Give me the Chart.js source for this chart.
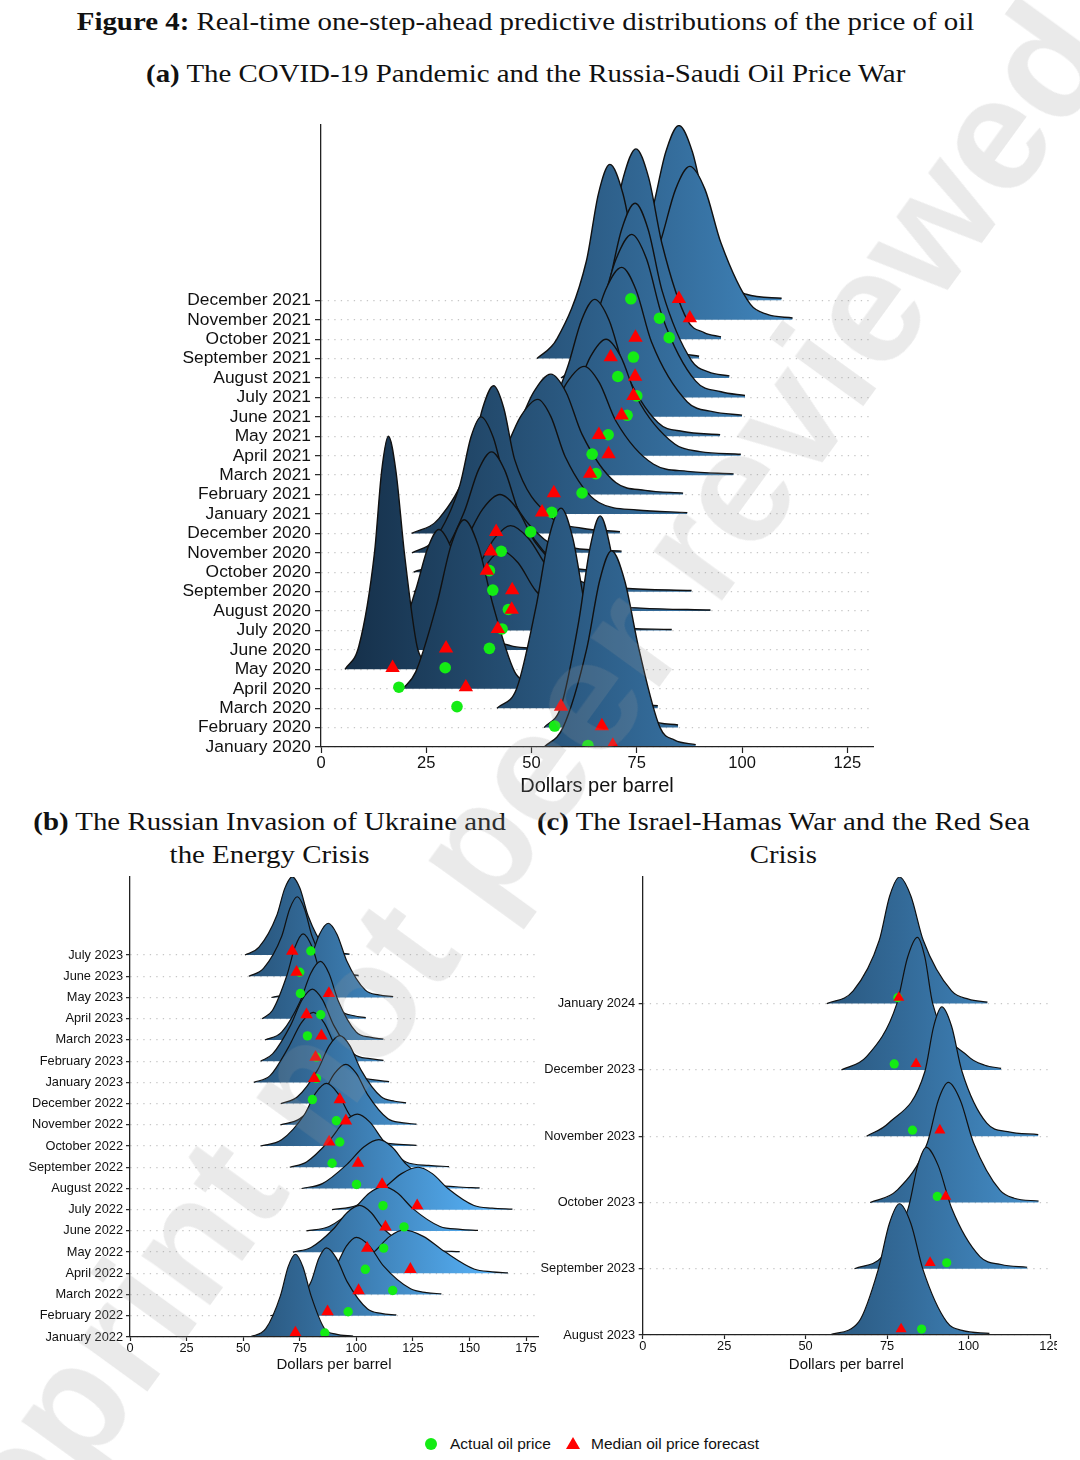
<!DOCTYPE html>
<html>
<head>
<meta charset="utf-8">
<script src="https://cdn.jsdelivr.net/npm/chart.js@4.4.1/dist/chart.umd.min.js"></script>
<style>
  body { margin: 0; background: #fff; }
  #page { position: relative; width: 1080px; height: 1460px; overflow: hidden; background: #fff; color: #111; }
  .ttl { position: absolute; text-align: center; font-family: "Liberation Serif", serif; font-size: 25px; line-height: 33px; white-space: nowrap; }
  .ttl span { display: inline-block; transform: scaleX(1.155); }
  canvas { position: absolute; }
  .leg { position: absolute; font-family: "Liberation Sans", Arial, sans-serif; font-size: 15.5px; line-height: 20px; white-space: nowrap; }
  #dot { position: absolute; left: 425px; top: 1438px; width: 12px; height: 12px; border-radius: 50%; background: #14ec14; }
  #tri { position: absolute; left: 566px; top: 1437px; width: 0; height: 0; border-left: 7px solid transparent; border-right: 7px solid transparent; border-bottom: 12px solid #ff0000; }
  #wm { position: absolute; left: 483px; top: 836px; transform: translate(-50%, -50%) rotate(-54deg); font: bold 160px/1 "Liberation Sans", Arial, sans-serif; color: rgba(150, 150, 150, 0.2); white-space: nowrap; pointer-events: none; }
</style>
</head>
<body>
<div id="page">
  <div class="ttl" style="left:0;width:1052px;top:5px"><span><b>Figure 4:</b> Real-time one-step-ahead predictive distributions of the price of oil</span></div>
  <div class="ttl" style="left:0;width:1052px;top:57px"><span><b>(a)</b> The COVID-19 Pandemic and the Russia-Saudi Oil Price War</span></div>
  <div class="ttl" style="left:0;width:540px;top:805px"><span><b>(b)</b> The Russian Invasion of Ukraine and<br>the Energy Crisis</span></div>
  <div class="ttl" style="left:513px;width:540px;top:805px"><span><b>(c)</b> The Israel-Hamas War and the Red Sea<br>Crisis</span></div>

  <canvas id="chartA" width="1080" height="710" style="left:0;top:100px"></canvas>
  <canvas id="chartB" width="560" height="520" style="left:0;top:860px"></canvas>
  <div style="position:absolute;left:520px;top:860px;width:537px;height:520px;overflow:hidden">
    <canvas id="chartC" width="560" height="520" style="left:0;top:0"></canvas>
  </div>

  <div id="dot"></div>
  <div class="leg" style="left:450px;top:1434px">Actual oil price</div>
  <div id="tri"></div>
  <div class="leg" style="left:591px;top:1434px">Median oil price forecast</div>

  <div id="wm">preprint not peer reviewed</div>
</div>

<script>
// ---- data ----

// each ridge lists the x where the density sits at these fractions of its peak:
// start, 10%, 50%, 85%, peak, 85%, 50%, 10%, 3.5%, end of tail
const RIDGE_SHAPE = [0, 0.1, 0.5, 0.85, 1, 0.85, 0.5, 0.1, 0.035, 0.012];

// panel (a) COVID-19 / Russia-Saudi price war
const monthsA = ['January 2020', 'February 2020', 'March 2020', 'April 2020', 'May 2020', 'June 2020',
    'July 2020', 'August 2020', 'September 2020', 'October 2020', 'November 2020', 'December 2020',
    'January 2021', 'February 2021', 'March 2021', 'April 2021', 'May 2021', 'June 2021',
    'July 2021', 'August 2021', 'September 2021', 'October 2021', 'November 2021', 'December 2021'];
const ridgesA = [
    [53, 57.5, 63.1, 66.2, 69, 72.1, 75.5, 80.5, 84, 89],
    [53, 57, 61.2, 63.9, 66.3, 68.7, 71.4, 75.6, 78.5, 84.8],
    [41.8, 46.5, 51, 54.1, 57, 59.8, 62.8, 67.5, 71, 80],
    [19.5, 22.5, 27.5, 30.9, 34, 37.3, 40.8, 46, 49, 51.5],
    [5.7, 9, 12.7, 14.4, 16, 17.8, 19.8, 22.8, 24.5, 27],
    [15, 18.5, 22.5, 25.4, 28, 30.9, 34, 41, 45, 50],
    [25, 30, 36, 39.6, 43, 46.8, 51, 61, 70, 83.3],
    [24, 30, 37, 41.2, 45, 49.3, 54, 65, 76, 92.5],
    [22, 28, 34, 38.4, 42.5, 46.6, 51, 62, 72, 88],
    [22, 28, 34, 37.4, 40.5, 43.6, 47, 55, 60, 66],
    [21.6, 27, 33, 35.6, 38, 40.9, 44, 53, 60, 71.4],
    [21.5, 28, 35.5, 38.4, 41, 43.4, 46, 55, 62, 71],
    [30, 36, 43, 47.4, 51.5, 54.6, 58, 66, 75, 87],
    [35, 40, 46, 50.5, 54.6, 58.2, 62, 70, 77, 86],
    [43, 48, 54, 58.4, 62.5, 66.1, 70, 79, 87, 98],
    [47, 53, 60, 64, 67.7, 71.2, 75, 84, 90, 99.7],
    [48, 53, 58.5, 61.9, 65, 68.4, 72, 80, 86, 94.8],
    [52, 57, 63.5, 67.6, 71.4, 74.8, 78.5, 87, 93, 100],
    [54, 59, 66, 70.1, 73.8, 77.3, 81, 89, 95, 100.7],
    [57, 62, 68, 71.4, 74.6, 77.7, 81, 88, 92, 97],
    [51.3, 56, 63, 65.9, 68.6, 71.7, 75, 81, 85, 89.8],
    [56.6, 61, 68.5, 71.8, 74.8, 77.8, 81, 87, 91, 95],
    [68, 74, 80.5, 84.2, 87.6, 91.2, 95, 102, 106, 112],
    [62, 72, 78.5, 81.9, 85, 88.2, 91.6, 97.5, 101, 109.4]
];
// peak heights, in rows
const heightsA = [10.1, 10.9, 10.3, 8.7, 12.0, 6.2, 4.1, 4.4, 5.0, 6.2, 7.0, 7.6,
    5.9, 6.2, 5.6, 6.0, 7.05, 7.7, 8.4, 9.0, 10.0, 9.8, 7.9, 9.0];
const actualA = [63.4, 55.5, 32.3, 18.5, 29.5, 40, 43, 44.5, 40.8, 40, 42.8, 49.8,
    54.8, 62, 65.3, 64.4, 68.2, 72.7, 75, 70.5, 74.2, 82.7, 80.4, 73.6];
const forecastA = [69.3, 66.7, 57, 34.4, 17, 29.7, 42, 45.3, 45.4, 39.4, 40.3, 41.6,
    52.5, 55.3, 63.9, 68.3, 66, 71.4, 74.2, 74.6, 68.8, 74.7, 87.6, 85];
const xTicksA = [0, 25, 50, 75, 100, 125];

// panel (b) Russian invasion of Ukraine
const monthsB = ['January 2022', 'February 2022', 'March 2022', 'April 2022', 'May 2022', 'June 2022',
    'July 2022', 'August 2022', 'September 2022', 'October 2022', 'November 2022', 'December 2022',
    'January 2023', 'February 2023', 'March 2023', 'April 2023', 'May 2023', 'June 2023', 'July 2023'];
const ridgesB = [
    [53, 60, 66.5, 69.9, 73.1, 76.4, 80, 86, 91, 98.6],
    [62, 72, 80, 83.5, 86.8, 91.2, 96, 105, 111, 117.7],
    [72, 82, 91, 95.7, 100, 105.8, 112, 124, 131, 137.6],
    [88, 98, 108, 114.8, 121, 129.6, 139, 152, 160, 167],
    [72, 80, 90, 96, 101.5, 106.5, 112, 125, 135, 145.7],
    [78, 88, 99, 105.8, 112, 118.2, 125, 137, 146, 153.8],
    [89.3, 100, 112, 120, 127.3, 133.6, 140.5, 152, 160, 169],
    [75.8, 85, 96, 103.3, 110, 115.8, 122, 134, 144, 154.5],
    [70.6, 78, 88, 94.5, 100.5, 106, 112, 122, 132, 141],
    [57.7, 67, 77, 82.1, 86.8, 91.7, 97, 107, 116, 126.6],
    [66.5, 75, 85, 90.4, 95.4, 100, 105, 114, 120, 126.6],
    [66.7, 74, 83, 88, 92.7, 97.2, 102, 111, 117, 122],
    [54.7, 62, 70, 75.7, 81, 85.8, 91, 101, 108, 114.5],
    [57.7, 63, 71, 76, 80.6, 85.1, 90, 99, 106, 112],
    [59.6, 67, 75.3, 79.9, 84.2, 87.9, 92, 100, 106, 112],
    [58.4, 63, 69.2, 73, 76.5, 80.4, 84.6, 93, 99, 104.2],
    [62.5, 72, 79.5, 83.7, 87.6, 91.5, 95.7, 104, 110, 116.3],
    [52.5, 59, 67, 70.6, 73.9, 77.1, 80.5, 88, 94, 101],
    [50.8, 57, 64.8, 68.4, 71.7, 75.1, 78.7, 86, 91, 97]
];
const heightsB = [3.9, 3.2, 2.7, 2.05, 2.2, 2.1, 2.0, 2.3, 2.5, 2.95, 2.85, 3.2,
    3.3, 3.4, 3.7, 4.0, 3.5, 3.75, 3.7];
const actualB = [86.1, 96.4, 116.1, 104, 112.1, 121.1, 111.8, 100.1, 89.3, 92.7, 91.2, 80.6,
    82.4, 82.4, 78.4, 84.3, 75.3, 75, 79.9];
const forecastB = [73.1, 87.3, 101, 123.9, 104.8, 112.9, 126.9, 111.4, 100.8, 88, 95.4, 92.7,
    81.4, 82, 84.6, 78, 87.9, 73.6, 71.7];
const xTicksB = [0, 25, 50, 75, 100, 125, 150, 175];

// panel (c) Israel-Hamas war / Red Sea
const monthsC = ['August 2023', 'September 2023', 'October 2023', 'November 2023', 'December 2023', 'January 2024'];
const ridgesC = [
    [57.3, 66.3, 72.3, 75.7, 78.8, 82.3, 86, 93.3, 98, 106.4],
    [65, 73.5, 81.5, 84.4, 87, 90.7, 94.8, 103.5, 110, 118],
    [69.8, 78, 87.4, 90.7, 93.8, 97.5, 101.5, 109.7, 114, 121.5],
    [68.7, 75.4, 86.6, 89.3, 91.8, 94.8, 98, 105.6, 112, 121.4],
    [61, 68.7, 78, 81.3, 84.3, 86.6, 89, 100, 105, 110],
    [56.5, 64.6, 72.6, 75.8, 78.8, 82.3, 86.1, 94.8, 100, 105.8]
];
const heightsC = [1.98, 1.83, 1.81, 1.95, 2.0, 1.91];
const actualC = [85.6, 93.3, 90.4, 82.8, 77.2, 78.3];
const forecastC = [79.3, 88.2, 93, 91.2, 83.9, 78.6];
const xTicksC = [0, 25, 50, 75, 100, 125];

// ---- drawing ----

const SANS = '"Liberation Sans", Arial, sans-serif';
const FILL_RANGE = 160; // dollar value where the fill gradient reaches its light end

Chart.defaults.font.family = SANS;
Chart.defaults.color = '#111';

function ridgeFill(context) {
    const chart = context.chart;
    if (!chart.chartArea || !chart.scales.x) return '#336A98';
    const xs = chart.scales.x;
    const g = chart.ctx.createLinearGradient(xs.getPixelForValue(0), 0, xs.getPixelForValue(FILL_RANGE), 0);
    g.addColorStop(0, '#132B43');
    g.addColorStop(0.5, '#336A98');
    g.addColorStop(1, '#56B1F7');
    return g;
}

function ridgeChart(id, opt) {
    const datasets = [];
    opt.ridges.forEach(function (xs, r) {
        datasets.push({
            data: xs.map((x, k) => ({ x: x, y: r + opt.heights[r] * RIDGE_SHAPE[k] })),
            borderColor: '#111',
            borderWidth: opt.lineWidth,
            backgroundColor: ridgeFill,
            fill: { value: r },
            pointRadius: 0,
            cubicInterpolationMode: 'monotone',
            order: 1
        });
    });
    // triangles before dots so they sit on top where they overlap
    datasets.push({
        label: 'Median oil price forecast',
        data: opt.forecast.map((v, r) => ({ x: v, y: r + opt.lift })),
        showLine: false,
        pointStyle: 'triangle',
        pointRadius: opt.triSize,
        pointBackgroundColor: '#ff0000',
        pointBorderWidth: 0,
        order: 0
    });
    datasets.push({
        label: 'Actual oil price',
        data: opt.actual.map((v, r) => ({ x: v, y: r + opt.lift })),
        showLine: false,
        pointStyle: 'circle',
        pointRadius: opt.dotSize,
        pointBackgroundColor: '#14ec14',
        pointBorderWidth: 0,
        order: 0
    });

    return new Chart(document.getElementById(id), {
        type: 'line',
        data: { datasets: datasets },
        options: {
            responsive: false,
            animation: false,
            events: [],
            layout: { padding: { left: 0, top: opt.padTop, right: opt.padRight, bottom: 0 } },
            plugins: { legend: { display: false }, tooltip: { enabled: false } },
            scales: {
                x: {
                    type: 'linear',
                    min: 0,
                    max: opt.xMax,
                    afterBuildTicks: (s) => { s.ticks = opt.xTicks.map(v => ({ value: v })); },
                    afterFit: (s) => { s.height = opt.xAxisH; },
                    ticks: { autoSkip: false, maxRotation: 0, padding: opt.xPad, font: { size: opt.xFont }, color: '#111' },
                    grid: { drawOnChartArea: false, tickLength: opt.tick, tickColor: '#222', tickWidth: 1.2 },
                    border: { color: '#222', width: 1.3, z: 1 },
                    title: {
                        display: true, text: 'Dollars per barrel', color: '#111',
                        font: { size: opt.titleFont }, padding: { top: opt.titlePad, bottom: opt.titlePad }
                    }
                },
                y: {
                    type: 'linear',
                    min: 0,
                    max: opt.yMax,
                    afterBuildTicks: (s) => { s.ticks = opt.labels.map((_, i) => ({ value: i })); },
                    afterFit: (s) => { s.width = opt.yAxisW; },
                    ticks: { autoSkip: false, padding: opt.yPad, font: { size: opt.yFont }, color: '#111',
                        callback: (v) => opt.labels[v] },
                    grid: { color: '#c6c6c6', lineWidth: 1.3, tickLength: opt.tick, tickColor: '#222', tickWidth: 1.2 },
                    border: { color: '#222', width: 1.3, dash: [1.3, 5.2], z: 1 }
                }
            }
        }
    });
}

ridgeChart('chartA', {
    labels: monthsA, ridges: ridgesA, heights: heightsA, actual: actualA, forecast: forecastA, xTicks: xTicksA,
    xMax: 131.1, yMax: 32.03, padTop: 25, padRight: 207, yAxisW: 321, xAxisH: 63,
    xFont: 16.5, yFont: 17.4, titleFont: 20, titlePad: 12, xPad: 1, yPad: 4, tick: 6,
    lineWidth: 1.4, lift: 0.08, dotSize: 5.8, triSize: 8.3
});

ridgeChart('chartB', {
    labels: monthsB, ridges: ridgesB, heights: heightsB, actual: actualB, forecast: forecastB, xTicks: xTicksB,
    xMax: 180.3, yMax: 21.68, padTop: 17, padRight: 22, yAxisW: 130, xAxisH: 43,
    xFont: 12.8, yFont: 12.8, titleFont: 15, titlePad: 6, xPad: 0, yPad: 3, tick: 4,
    lineWidth: 1.2, lift: 0.19, dotSize: 4.7, triSize: 7.2
});

ridgeChart('chartC', {
    labels: monthsC, ridges: ridgesC, heights: heightsC, actual: actualC, forecast: forecastC, xTicks: xTicksC,
    xMax: 125, yMax: 6.91, padTop: 17, padRight: 30, yAxisW: 122.7, xAxisH: 45,
    xFont: 12.8, yFont: 12.8, titleFont: 15, titlePad: 6, xPad: 0, yPad: 3.5, tick: 4,
    lineWidth: 1.2, lift: 0.09, dotSize: 4.6, triSize: 6.4
});
</script>
</body>
</html>
